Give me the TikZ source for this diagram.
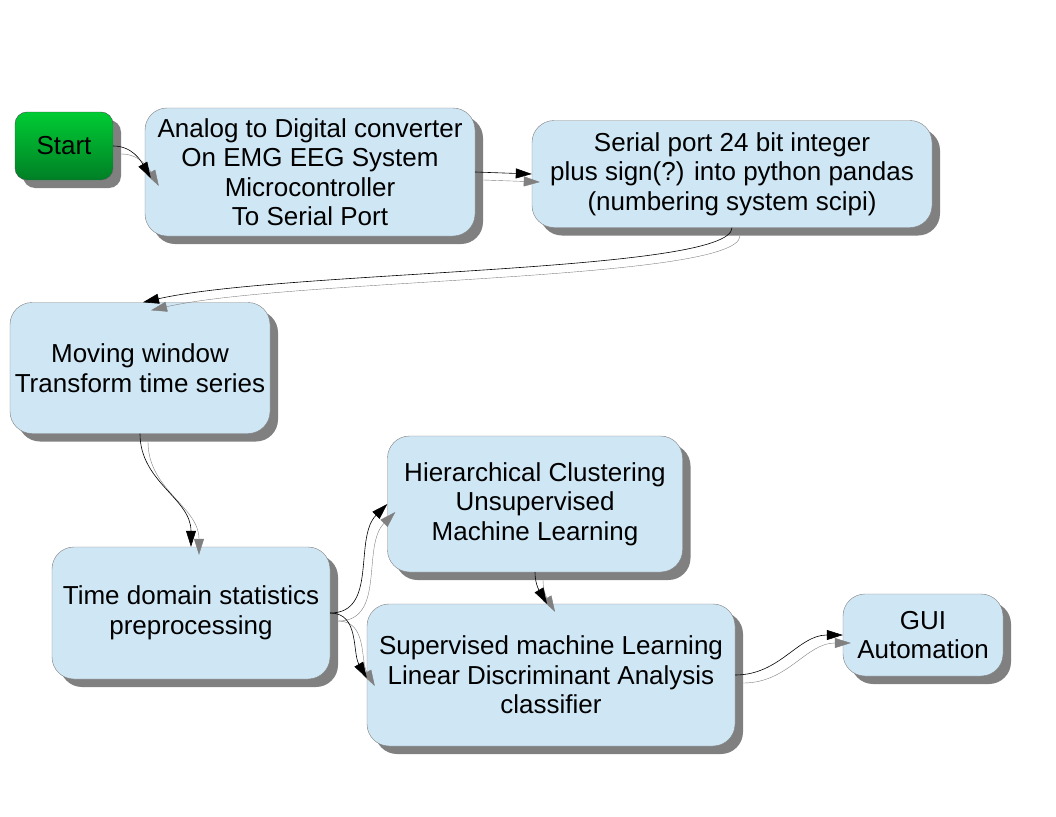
\documentclass[tikz,border=0pt]{standalone}
\usepackage{fontspec}
\setmainfont{Liberation Sans}
\usetikzlibrary{shadows,arrows.meta}

\definecolor{boxblue}{HTML}{CFE7F5}
\definecolor{shadegray}{HTML}{808080}
\definecolor{startgreen}{HTML}{00CC33}
\definecolor{startdark}{HTML}{007F26}

\tikzset{
  box/.style={draw=shadegray, fill=boxblue, rounded corners=22pt, align=center,
    inner sep=0pt, font=\fontsize{26}{29.5}\selectfont,
    drop shadow={shadow xshift=8pt, shadow yshift=-8pt, fill=shadegray, opacity=1}},
  startbox/.style={box, rounded corners=12pt, draw=black!70, top color=startgreen, bottom color=startdark},
  conn/.style={-{Triangle[length=16pt,width=10pt]}, black, semithick},
  connshade/.style={-{Triangle[length=16pt,width=10pt]}, shadegray, thin,
    transform canvas={xshift=8pt,yshift=-8pt}},
}
% connector with its shadow copy
\newcommand{\link}[1]{\draw[connshade] #1; \draw[conn] #1;}

\begin{document}
\begin{tikzpicture}[x=1pt,y=-1pt]
\useasboundingbox (0,0) rectangle (1056,816);

\node[startbox, minimum width=98pt, minimum height=68pt] (start) at (64,146) {Start};
\node[box, minimum width=330pt, minimum height=128pt] (adc) at (310,172)
  {Analog to Digital converter\\On EMG EEG System\\Microcontroller\\To Serial Port};
\node[box, minimum width=400pt, minimum height=107pt] (serial) at (732,174)
  {Serial port 24 bit integer\\plus sign(?) into python pandas\\(numbering system scipi)};
\node[box, minimum width=260pt, minimum height=131pt] (window) at (140,368)
  {Moving window\\Transform time series};
\node[box, minimum width=278pt, minimum height=132pt] (stats) at (191,613)
  {Time domain statistics\\preprocessing};
\node[box, minimum width=295pt, minimum height=136pt] (cluster) at (535,504)
  {Hierarchical Clustering\\Unsupervised\\Machine Learning};
\node[box, minimum width=368pt, minimum height=142pt] (lda) at (551,675)
  {Supervised machine Learning\\Linear Discriminant Analysis\\classifier};
\node[box, minimum width=160pt, minimum height=82pt] (gui) at (923,635)
  {GUI\\Automation};

\link{(start.east) to[out=0,in=120] ([xshift=6pt,yshift=-6pt]adc.west)}
\link{(adc.east) -- (serial.west)}
\link{(serial.south) .. controls +(0,45) and +(140,-32) .. ([xshift=3pt]window.north)}
\link{(window.south) to[out=-90,in=90] (stats.north)}
\link{(stats.east) to[out=0,in=-135] (cluster.west)}
\link{(stats.east) to[out=0,in=120] ([yshift=-3pt]lda.west)}
\link{(cluster.south) to[out=-90,in=120] ([xshift=-4pt]lda.north)}
\link{(lda.east) to[out=0,in=180] (gui.west)}
\end{tikzpicture}
\end{document}
